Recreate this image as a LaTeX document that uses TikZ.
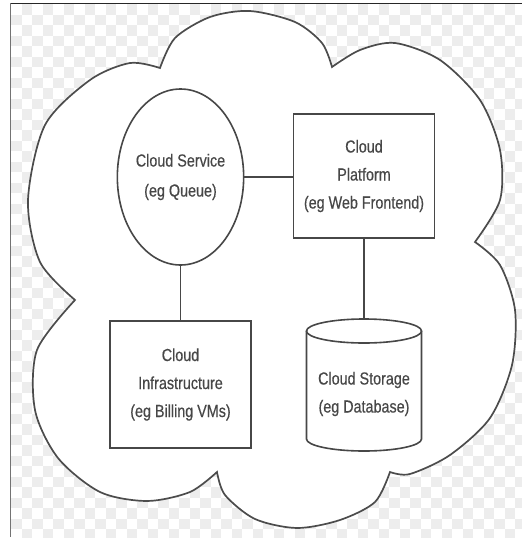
\documentclass[tikz,border=0pt]{standalone}
\usepackage{fontspec}
\setmainfont{Liberation Sans}
\newfontfamily\labelfont[FakeStretch=0.82,FakeBold=0.4]{Liberation Sans}
\usetikzlibrary{shapes.geometric}

\begin{document}
\begin{tikzpicture}[x=1pt,y=-1pt,
  checker/.style={fill=black!7},
  cloudline/.style={draw=black!70,line width=1.7pt},
  shapeline/.style={draw=black!72,line width=1.6pt},
  link/.style={draw=black!72,line width=1.6pt},
  lbl/.style={text=black!72,align=center,font=\labelfont\fontsize{17.5}{28}\selectfont,inner sep=0pt},
  boxnode/.style={shapeline,rectangle,minimum width=141,lbl},
  ovalnode/.style={shapeline,ellipse,minimum width=115,minimum height=176,lbl}]

\useasboundingbox (0,0) rectangle (522,539);

% transparent-style checkerboard backdrop
\begin{scope}
  \clip (11,4) rectangle (522,537);
  \foreach \i in {0,...,49}{
    \foreach \j in {0,...,51}{
      \ifodd\numexpr\i+\j\relax
        \fill[checker] (11+\i*10.5,4+\j*10.5) rectangle ++(10.5,10.5);
      \fi
    }
  }
\end{scope}

% frame edges
\draw[black!85,line width=1.5pt] (10,3.5) -- (522,3.5);
\draw[black!55,line width=1pt] (10.5,3) -- (10.5,537);

% cloud outline, one smooth lobe after another
\draw[cloudline,fill=white]
  plot[smooth] coordinates {(75,300) (40,262) (28,200) (45,125) (90,80) (130,63) (160,68)}
  -- plot[smooth] coordinates {(160,68) (175,38) (210,17) (250,11) (295,22) (322,43) (332,67)}
  -- plot[smooth] coordinates {(332,67) (360,50) (395,43) (440,60) (480,100) (500,150) (500,200) (475,242)}
  -- plot[smooth] coordinates {(475,242) (500,265) (515,310) (512,365) (490,418) (450,455) (410,474) (390,472)}
  -- plot[smooth] coordinates {(390,472) (375,502) (340,520) (297,528) (255,519) (225,495) (217,472)}
  -- plot[smooth] coordinates {(217,472) (190,492) (147,501) (100,492) (58,458) (35,410) (37,350) (75,300)}
  -- cycle;

% components
\node[ovalnode] (svc) at (180.5,177) {Cloud Service\\[2pt](eg Queue)};
\node[boxnode,minimum height=124] (plat) at (364,176) {Cloud\\Platform\\(eg Web Frontend)};
\node[boxnode,minimum height=127] (infra) at (180.5,384.5) {Cloud\\Infrastructure\\(eg Billing VMs)};

% database cylinder
\draw[shapeline,fill=white] (306.5,331) -- (306.5,439)
  arc[start angle=180,end angle=0,x radius=57.5,y radius=12] -- (421.5,331);
\draw[shapeline,fill=white] (364,331) ellipse[x radius=57.5,y radius=12];
\coordinate (dbtop) at (364,319);
\node[lbl] (store) at (364,394) {Cloud Storage\\(eg Database)};

% connectors
\draw[link] (svc.east) -- (svc.east -| plat.west);
\draw[link] (svc.south) -- (infra.north);
\draw[link] (plat.south) -- (dbtop);
\end{tikzpicture}
\end{document}
